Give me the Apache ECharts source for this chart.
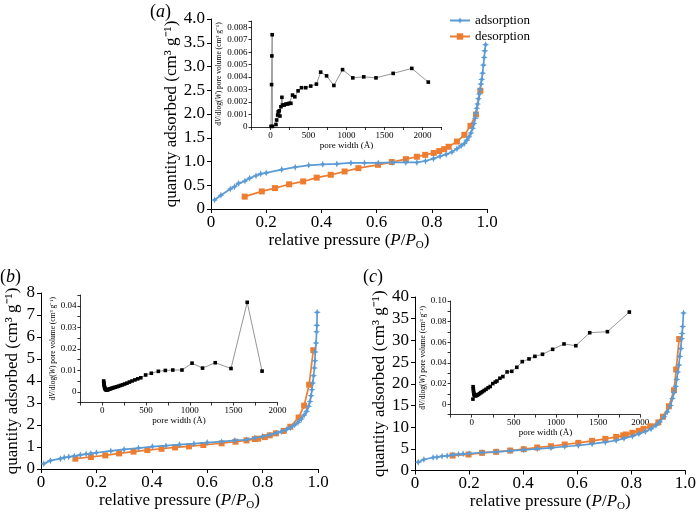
<!DOCTYPE html>
<html><head><meta charset="utf-8">
<script src="https://cdn.jsdelivr.net/npm/echarts@6/dist/echarts.min.js"></script>
<style>html,body{margin:0;padding:0;background:#fff}#c{width:699px;height:513px}</style>
</head><body><div id="c"></div>
<script>
// ---- data ----
const adsA = [[0.013,0.19],[0.036,0.29],[0.07,0.42],[0.085,0.47],[0.10,0.54],[0.123,0.59],[0.14,0.65],[0.163,0.70],[0.18,0.74],[0.20,0.76],[0.256,0.83],[0.305,0.88],[0.354,0.92],[0.405,0.94],[0.456,0.95],[0.507,0.97],[0.556,0.97],[0.606,0.97],[0.657,0.98],[0.706,0.98],[0.746,0.98],[0.777,1.01],[0.806,1.06],[0.83,1.11],[0.852,1.15],[0.873,1.20],[0.891,1.27],[0.906,1.33],[0.918,1.38],[0.927,1.45],[0.935,1.52],[0.942,1.60],[0.948,1.70],[0.953,1.80],[0.957,1.91],[0.960,2.02],[0.963,2.12],[0.966,2.21],[0.969,2.32],[0.972,2.42],[0.975,2.52],[0.978,2.63],[0.981,2.73],[0.984,2.86],[0.987,3.03],[0.990,3.19],[0.992,3.33],[0.995,3.46]];
const desA = [[0.122,0.26],[0.184,0.37],[0.232,0.44],[0.283,0.52],[0.334,0.58],[0.383,0.66],[0.434,0.72],[0.484,0.79],[0.534,0.86],[0.605,0.93],[0.655,0.99],[0.706,1.05],[0.746,1.10],[0.776,1.14],[0.807,1.18],[0.827,1.22],[0.845,1.26],[0.861,1.31],[0.891,1.42],[0.918,1.56],[0.94,1.75],[0.96,1.99],[0.976,2.49]];
const poreA = [[7,0.00005],[14,0.0034],[18,0.0057],[22,0.0074],[26,0.00005],[72,0.0002],[81,0.00056],[94,0.00096],[102,0.00122],[115,0.0013],[124,0.00088],[137,0.00162],[150,0.00238],[159,0.00176],[180,0.00176],[203,0.00184],[225,0.00184],[246,0.0019],[268,0.0019],[290,0.00256],[320,0.00242],[363,0.0029],[408,0.00315],[464,0.00315],[529,0.00328],[604,0.00344],[660,0.0044],[738,0.0041],[834,0.00333],[948,0.0046],[1083,0.00394],[1227,0.00402],[1388,0.00394],[1614,0.0043],[1859,0.0047],[2076,0.0036]];

const adsB = [[0.01,0.24],[0.034,0.38],[0.07,0.47],[0.084,0.52],[0.10,0.55],[0.12,0.59],[0.142,0.64],[0.163,0.68],[0.18,0.71],[0.20,0.74],[0.252,0.82],[0.30,0.89],[0.352,0.95],[0.402,1.02],[0.451,1.06],[0.50,1.11],[0.552,1.15],[0.60,1.20],[0.652,1.24],[0.70,1.30],[0.742,1.33],[0.772,1.41],[0.80,1.48],[0.826,1.55],[0.85,1.64],[0.868,1.70],[0.886,1.79],[0.90,1.88],[0.916,2.00],[0.928,2.12],[0.94,2.27],[0.95,2.45],[0.959,2.62],[0.966,2.85],[0.971,3.07],[0.975,3.33],[0.978,3.60],[0.981,3.91],[0.984,4.24],[0.987,4.59],[0.989,4.92],[0.990,5.32],[0.993,5.73],[0.995,6.24],[0.996,6.53],[0.997,7.12]];
const desB = [[0.124,0.47],[0.18,0.545],[0.232,0.62],[0.282,0.71],[0.334,0.79],[0.384,0.86],[0.435,0.92],[0.484,0.98],[0.534,1.03],[0.586,1.09],[0.652,1.17],[0.702,1.24],[0.742,1.30],[0.772,1.36],[0.784,1.38],[0.808,1.45],[0.826,1.53],[0.848,1.62],[0.876,1.73],[0.90,1.92],[0.93,2.34],[0.95,2.88],[0.968,3.83],[0.983,5.40]];
const poreB = [[16,0.0050],[18,0.0042],[20,0.0035],[22,0.0029],[25,0.0023],[28,0.0018],[32,0.0014],[37,0.0011],[43,0.0009],[50,0.0008],[58,0.0009],[67,0.0010],[77,0.0012],[88,0.0013],[100,0.0015],[115,0.0017],[130,0.0019],[147,0.0021],[165,0.0023],[185,0.0026],[207,0.0029],[230,0.0032],[255,0.0036],[282,0.0040],[310,0.0045],[340,0.0050],[372,0.0055],[405,0.0060],[440,0.0065],[495,0.0078],[560,0.0086],[640,0.0095],[720,0.0099],[805,0.0101],[910,0.0101],[1025,0.0133],[1145,0.0110],[1290,0.0135],[1470,0.0108],[1655,0.0416],[1825,0.0096]];

const adsC = [[0.012,1.92],[0.033,2.53],[0.067,3.0],[0.081,3.07],[0.10,3.3],[0.119,3.38],[0.14,3.6],[0.161,3.76],[0.178,3.84],[0.20,3.92],[0.248,4.15],[0.30,4.3],[0.352,4.53],[0.402,4.76],[0.452,5.0],[0.503,5.22],[0.554,5.53],[0.604,5.76],[0.655,6.14],[0.704,6.53],[0.744,6.91],[0.773,7.37],[0.804,7.91],[0.828,8.45],[0.852,8.98],[0.873,9.6],[0.891,10.36],[0.905,11.2],[0.921,12.4],[0.933,13.5],[0.945,15.0],[0.952,16.6],[0.958,18.0],[0.964,19.4],[0.968,21.0],[0.972,22.7],[0.976,24.3],[0.979,26.3],[0.983,28.1],[0.986,30.4],[0.988,31.6],[0.990,33.2],[0.993,36.3]];
const desC = [[0.139,3.45],[0.198,3.69],[0.248,4.07],[0.30,4.3],[0.352,4.6],[0.402,4.91],[0.452,5.3],[0.503,5.6],[0.554,5.99],[0.604,6.37],[0.655,6.83],[0.704,7.29],[0.744,7.75],[0.77,8.1],[0.78,8.3],[0.804,8.68],[0.828,9.14],[0.845,9.6],[0.87,10.2],[0.90,11.1],[0.917,12.4],[0.939,14.8],[0.958,18.5],[0.966,23.3],[0.977,30.3]];
const poreC = [[15,0.0050],[17,0.0170],[19,0.0150],[21,0.0130],[24,0.0115],[27,0.0100],[31,0.0092],[36,0.0086],[42,0.0083],[50,0.0083],[58,0.0086],[68,0.0090],[80,0.0096],[95,0.0104],[110,0.0113],[128,0.0122],[148,0.0133],[170,0.0145],[195,0.0160],[220,0.0172],[250,0.0200],[280,0.0215],[300,0.0225],[335,0.0252],[370,0.0268],[420,0.0313],[475,0.0319],[535,0.0358],[600,0.0413],[680,0.0439],[750,0.0464],[840,0.0484],[960,0.0532],[1095,0.0584],[1235,0.0567],[1400,0.0693],[1610,0.0703],[1870,0.0893]];

const panelLabels = ['a','b','c'];
const seriesNames = ['adsorption','desorption'];

// ---- styling ----
const SERIF = "'Liberation Serif','Times New Roman',serif";
const BLUE = '#5B9BD5', ORANGE = '#ED7D31';
const STAR = 'path://M0,-10 L3,-3 L10,0 L3,3 L0,10 L-3,3 L-10,0 L-3,-3 Z';

const grids = [
  {left:211, top:19, width:276, height:190},
  {left:251.5, top:21, width:190, height:106},
  {left:41, top:293, width:277, height:176},
  {left:80.4, top:295, width:197, height:107.5},
  {left:415, top:297, width:275, height:173.5},
  {left:450.6, top:301, width:189.7, height:113.6}
];

function fmt1(v){ return Math.abs(v)<1e-9 ? '0' : v.toFixed(1); }
const xTitleRich = {
  i:{fontStyle:'italic', fontSize:17, fontFamily:SERIF, color:'#000'},
  s:{fontSize:11, fontFamily:SERIF, color:'#000', padding:[9,0,0,0]}
};
const mainX = (gi) => ({
  type:'value', gridIndex:gi, min:0, max:1, interval:0.2,
  axisLine:{lineStyle:{color:'#000', width:1}},
  axisTick:{inside:false, length:4, lineStyle:{color:'#000'}},
  splitLine:{show:false},
  axisLabel:{fontFamily:SERIF, fontSize:17, color:'#000', margin:5, formatter:fmt1},
  name:'relative pressure ({i|P}/{i|P}{s|O})', nameLocation:'middle', nameGap:21,
  nameTextStyle:{fontFamily:SERIF, fontSize:17, color:'#000', rich:xTitleRich}
});
const mainY = (gi, max, interval, f, gap) => ({
  type:'value', gridIndex:gi, min:0, max:max, interval:interval,
  axisLine:{show:true, lineStyle:{color:'#000', width:1}},
  axisTick:{show:true, inside:false, length:4, lineStyle:{color:'#000'}},
  splitLine:{show:false},
  axisLabel:{fontFamily:SERIF, fontSize:17, color:'#000', margin:6, formatter:f},
  name:'quantity adsorbed (cm³ g⁻¹)', nameLocation:'middle', nameGap:gap,
  nameTextStyle:{fontFamily:SERIF, fontSize:17, color:'#000'}
});
const insetX = (gi, max) => ({
  type:'value', gridIndex:gi, min:-250, max:max, interval:250,
  axisLine:{onZero:false, lineStyle:{color:'#000', width:0.8}},
  axisTick:{inside:false, length:3, lineStyle:{color:'#000', width:0.8}},
  splitLine:{show:false},
  axisLabel:{fontFamily:SERIF, fontSize:9, color:'#000', margin:4, showMaxLabel:true,
    formatter:v => (v>=0 && Math.round(v)%500===0) ? String(Math.round(v)) : ''},
  name:'pore width (Å)', nameLocation:'middle', nameGap:13,
  nameTextStyle:{fontFamily:SERIF, fontSize:9, color:'#000'}
});
const insetYRich = {i:{fontStyle:'italic', fontFamily:SERIF, fontSize:7.5, color:'#000'}};
const insetY = (gi, min, max, interval, labelStep, dec, gap) => ({
  type:'value', gridIndex:gi, min:min, max:max, interval:interval,
  axisLine:{show:true, onZero:false, lineStyle:{color:'#000', width:0.8}},
  axisTick:{show:true, inside:false, length:3, lineStyle:{color:'#000', width:0.8}},
  splitLine:{show:false},
  axisLabel:{fontFamily:SERIF, fontSize:9, color:'#000', margin:4, showMaxLabel:true, showMinLabel:true,
    formatter:v => {
      const k = Math.round(v/labelStep);
      if (Math.abs(v - k*labelStep) > labelStep*1e-3 || v < -1e-12) return '';
      return k===0 ? '0' : (k*labelStep).toFixed(dec);
    }},
  name:'d{i|V}/dlog({i|W}) pore volume (cm³ g⁻¹)', nameLocation:'middle', nameGap:gap,
  nameTextStyle:{fontFamily:SERIF, fontSize:7.5, color:'#000', rich:insetYRich}
});

const mainSeries = (name, data, gi, blue) => ({
  name:name, type:'line', xAxisIndex:gi, yAxisIndex:gi, data:data,
  symbol: blue ? STAR : 'rect', symbolSize: blue ? 7 : 6,
  lineStyle:{color: blue?BLUE:ORANGE, width:1.7},
  itemStyle:{color: blue?BLUE:ORANGE},
  z: blue ? 3 : 2
});
const poreSeries = (data, gi) => ({
  name:'pore'+gi, type:'line', xAxisIndex:gi, yAxisIndex:gi, data:data,
  symbol:'rect', symbolSize:3.6,
  lineStyle:{color:'#8a8a8a', width:0.9},
  itemStyle:{color:'#000'}
});

const option = {
  animation:false,
  backgroundColor:'#fff',
  grid: grids,
  xAxis: [mainX(0), insetX(1,2250), mainX(2), insetX(3,2000), mainX(4), insetX(5,2000)],
  yAxis: [
    mainY(0, 4, 0.5, fmt1, 29),
    insetY(1, 0, 0.0085, 0.001, 0.001, 3, 26),
    mainY(2, 8, 1, v=>String(v), 20),
    insetY(3, -0.005, 0.045, 0.005, 0.01, 2, 23),
    mainY(4, 40, 5, v=>String(v), 26),
    insetY(5, -0.01, 0.10, 0.01, 0.02, 2, 24)
  ],
  legend: {
    data: seriesNames, orient:'vertical', left:444, top:9, itemGap:3,
    itemWidth:20, itemHeight:8,
    textStyle:{fontFamily:SERIF, fontSize:13, color:'#000', padding:[0,0,0,0]}
  },
  graphic: [
    {type:'text', left:150, top:3, style:{text:'({i|'+panelLabels[0]+'})', font:'18px '+SERIF, fill:'#000', rich:{i:{fontStyle:'italic', fontSize:18, fontFamily:SERIF}}}},
    {type:'text', left:0, top:268, style:{text:'({i|'+panelLabels[1]+'})', font:'18px '+SERIF, fill:'#000', rich:{i:{fontStyle:'italic', fontSize:18, fontFamily:SERIF}}}},
    {type:'text', left:363, top:268, style:{text:'({i|'+panelLabels[2]+'})', font:'18px '+SERIF, fill:'#000', rich:{i:{fontStyle:'italic', fontSize:18, fontFamily:SERIF}}}}
  ],
  series: [
    mainSeries(seriesNames[0], adsA, 0, true),
    mainSeries(seriesNames[1], desA, 0, false),
    poreSeries(poreA, 1),
    mainSeries(seriesNames[0], adsB, 2, true),
    mainSeries(seriesNames[1], desB, 2, false),
    poreSeries(poreB, 3),
    mainSeries(seriesNames[0], adsC, 4, true),
    mainSeries(seriesNames[1], desC, 4, false),
    poreSeries(poreC, 5)
  ]
};
const chart = echarts.init(document.getElementById('c'), null, {renderer:'canvas'});
chart.setOption(option);
</script>
</body></html>
